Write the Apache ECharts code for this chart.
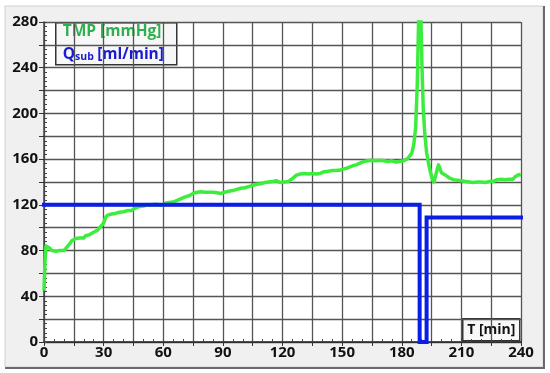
<!DOCTYPE html>
<html>
<head>
<meta charset="utf-8">
<script src="https://cdn.jsdelivr.net/npm/echarts@6/dist/echarts.min.js"></script>
<style>
html,body{margin:0;padding:0;background:#fff;}
#c{width:550px;height:373px;}
</style>
</head>
<body>
<div id="c"></div>
<script>
// ---- data ----
const xTickLabels = [0, 30, 60, 90, 120, 150, 180, 210, 240];
const yTickLabels = [0, 40, 80, 120, 160, 200, 240, 280];

const tmpTime = [0,0.5,1,2,3,4,5,6,7,8,9,10,11,12,13,14,15,16,17,18,19,20,21,22,23,24,25,26,27,28,29,30,
31,32,33,34,35,36,37,38,39,40,41,42,43,44,45,46,47,48,49,50,51,52,53,54,55,56,57,58,59,60,
61,62,63,64,65,66,67,68,69,70,71,72,73,74,75,76,77,78,79,80,81,82,83,84,85,86,87,88,89,90,
91,92,93,94,95,96,97,98,99,100,101,102,103,104,105,106,107,108,109,110,111,112,113,114,115,116,117,118,119,120,
121,122,123,124,125,126,127,128,129,130,131,132,133,134,135,136,137,138,139,140,141,142,143,144,145,146,147,148,149,150,
151,152,153,154,155,156,157,158,159,160,161,162,163,164,165,166,167,168,169,170,171,172,173,174,175,176,177,178,179,180,
181,182,183,184,185,186,187,187.8,188.4,189,189.6,190.2,190.8,191.6,192.5,193.5,194.5,195.5,196.2,197,197.8,198.5,199.2,200,
201,202,203,204,205,206,207,208,209,210,211,212,213,214,215,216,217,218,219,220,
221,222,223,224,225,226,227,228,229,230,231,232,233,234,235,236,237,238,239,240];
const tmpValue = [45,70,84,85,82,80,81.5,79.5,81,80,81.5,80,82,83,86,88.5,89,90.5,89.5,91,92,91,93,92.5,94,95.5,96,97.5,98,100,102,104,
109,111,112.5,112,113.5,112.5,114,113.5,115,114,115.5,115,116,115,116.5,117.5,117,118.5,118,119,118.5,120,119,120,119,120.5,119.5,120,121,119.5,
121.5,120.5,122,121,122.5,123,124,124.5,125.5,126,127,127.5,128,129,130,129.5,131,130,131.5,130,131,129.5,131,130,131,129.5,130.5,129,130,129.5,
131,130.5,132,131.5,132.5,132,133.5,133,134.5,134,135,134.5,136,135.5,137,136.5,138,139,138.5,140,139.5,141,140,141,140.5,139.5,141,140,139.5,141,
140,141.5,140.5,142,143,144.5,146,145.5,147,146,147.5,146.5,147,146,147.5,146.5,147,146,147.5,148,149,148.5,149.5,149,150,150.5,150,151,150.5,152,
151.5,153,152.5,153.5,154,153.5,155,155.5,156.5,157.5,158,159,158.5,160,159,160,158.5,160,159,160.5,158.5,159.5,158,159.5,158.5,159,157.5,159,158,159,
158.5,160,160.5,162,165,172,188,225,275,330,285,240,205,182,166,156,148,142,140,145,151,155,152,148,
149.5,146,145,143.5,144,142,143,141.5,142.5,141,142,140.5,141.5,140,141,139.5,141,140,141.5,140,
141,139.5,141,140.5,142,140.5,141.5,142,141,142.5,141.5,142,141,142.5,143,142.5,144.5,145,146.5,146];

const qTime  = [0, 189, 189, 192.5, 192.5, 240];
const qValue = [120, 120, 0, 0, 109, 109];

// ---- build ----
const tmpData = tmpTime.map((t, i) => [t, tmpValue[i]]);
const qData = qTime.map((t, i) => [t, qValue[i]]);

const font = '"Open Sans", "Noto Sans", sans-serif';
const chart = echarts.init(document.getElementById('c'), null, {renderer: 'canvas'});

const G = {left: 44, right: 29, top: 22, bottom: 31};

chart.setOption({
  animation: false,
  backgroundColor: '#ffffff',
  graphic: [
    {type: 'rect', z: -10, shape: {x: 5, y: 6, width: 538, height: 361},
     style: {fill: '#f0f0f0', stroke: '#d0d0d0', lineWidth: 1}},
    {type: 'polyline', z: -9, shape: {points: [[544, 6], [544, 368], [5, 368]]},
     style: {stroke: '#6a6a6a', lineWidth: 2, fill: null}},
    {type: 'group', left: 55, top: 22, z: 100, children: [
      {type: 'rect', shape: {x: 0, y: 0, width: 121, height: 42},
       style: {fill: '#f7f7f7', stroke: '#333', lineWidth: 1.5}},
      {type: 'text', x: 7, y: 1, style: {text: 'TMP [mmHg]', fill: '#2fb04f',
        font: 'bold 15.5px ' + font}},
      {type: 'text', x: 7, y: 20, style: {
        text: '{q|Q}{s|sub} {q|[ml/min]}',
        rich: {
          q: {fill: '#1a1ad0', font: 'bold 15.5px ' + font, lineHeight: 20, verticalAlign: 'bottom'},
          s: {fill: '#1a1ad0', font: 'bold 10.5px ' + font, lineHeight: 20, verticalAlign: 'bottom'}
        }}}
    ]},
    {type: 'group', left: 462, top: 318, z: 100, children: [
      {type: 'rect', shape: {x: 0, y: 0, width: 57, height: 22},
       style: {fill: '#f7f7f7', stroke: '#333', lineWidth: 1.5}},
      {type: 'text', x: 28.5, y: 11, style: {text: 'T [min]', fill: '#111',
        font: 'bold 14px ' + font, align: 'center', verticalAlign: 'middle'}}
    ]}
  ],
  grid: {left: G.left, right: G.right, top: G.top, bottom: G.bottom, show: true,
         backgroundColor: '#ffffff', borderWidth: 0},
  xAxis: [{
    type: 'value', min: 0, max: 240, interval: 15,
    axisLine: {show: true, lineStyle: {color: '#222', width: 1.5}},
    axisTick: {show: true, length: 4, lineStyle: {color: '#333'}},
    axisLabel: {color: '#111', fontFamily: font, fontWeight: 'bold', fontSize: 15, margin: 3,
      formatter: v => (xTickLabels.indexOf(v) >= 0 ? String(v) : '')},
    splitLine: {show: true, lineStyle: {color: '#555', width: 1.3}}
  }, {
    type: 'value', min: 0, max: 240, interval: 5, position: 'bottom',
    axisLine: {show: false}, axisLabel: {show: false}, splitLine: {show: false},
    axisTick: {show: true, inside: true, length: 3, lineStyle: {color: '#444'}}
  }],
  yAxis: [{
    type: 'value', min: 0, max: 280, interval: 20,
    axisLine: {show: true, lineStyle: {color: '#444', width: 1.5}},
    axisTick: {show: true, length: 5, lineStyle: {color: '#333'}},
    axisLabel: {color: '#111', fontFamily: font, fontWeight: 'bold', fontSize: 15, margin: 6,
      formatter: v => (yTickLabels.indexOf(v) >= 0 ? String(v) : '')},
    splitLine: {show: true, lineStyle: {color: '#555', width: 1.3}}
  }, {
    type: 'value', min: 0, max: 280, interval: 4, position: 'left',
    axisLine: {show: false}, axisLabel: {show: false}, splitLine: {show: false},
    axisTick: {show: true, inside: true, length: 3, lineStyle: {color: '#444'}}
  }],
  series: [
    {type: 'line', name: 'TMP', xAxisIndex: 0, yAxisIndex: 0, data: tmpData,
     showSymbol: false, clip: true, z: 5,
     lineStyle: {color: '#3ded3d', width: 3.5, join: 'round'}},
    {type: 'line', name: 'Qsub', xAxisIndex: 0, yAxisIndex: 0, data: qData,
     showSymbol: false, clip: true, z: 6,
     lineStyle: {color: '#0b1ee6', width: 4, join: 'miter', cap: 'square'}}
  ]
});
</script>
</body>
</html>
